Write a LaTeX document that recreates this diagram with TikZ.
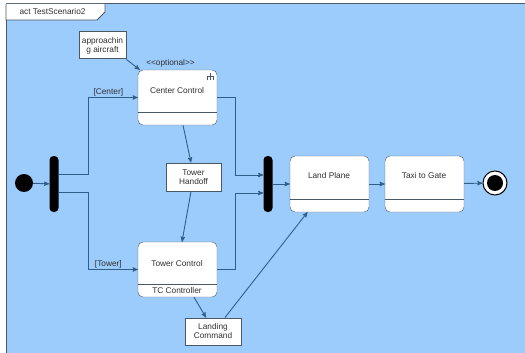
\documentclass[tikz,border=0pt]{standalone}
\usepackage{fontspec}
\setmainfont{Liberation Sans}
\usetikzlibrary{arrows}

\definecolor{paneblue}{HTML}{9CCCFC}
\definecolor{flowline}{HTML}{2F5E88}
\definecolor{boxline}{HTML}{4A5868}
\definecolor{inktext}{HTML}{303030}

\begin{document}
\begin{tikzpicture}[
    x = 1pt,
    y = -1pt,
    >=stealth',
    font = \fontsize{8.3}{9}\selectfont,
    text = inktext,
    action/.style = {
      draw = boxline,
      fill = white,
      rounded corners = 5pt,
      minimum width = 79pt,
      minimum height = 55pt,
      inner sep = 0pt
    },
    objbox/.style = {
      draw = boxline,
      fill = white,
      line width = 1pt,
      align = center,
      inner sep = 0pt
    },
    bar/.style = {
      fill = black,
      rounded corners = 4pt,
      minimum width = 9pt,
      minimum height = 56pt,
      inner sep = 0pt
    },
    flow/.style = {
      draw = flowline,
      line width = 0.9pt,
      ->
    },
    guard/.style = {
      anchor = south,
      inner sep = 1pt
    }
  ]
  \useasboundingbox (0,0) rectangle (525,353);

  % frame and its tab
  \fill[paneblue] (6,4) rectangle (525,353);
  \draw[boxline, line width=1pt] (6,353) -- (6,4) -- (525,4);
  \draw[boxline, fill=white, line width=0.8pt]
    (6,4) -- (6,20) -- (97,20) -- (105,12) -- (105,4);
  \node[anchor=west] (title) at (16,12) {act TestScenario2};

  % start, fork and join
  \node[circle, fill=black, minimum size=18pt, inner sep=0pt] (init) at (24,183) {};
  \node[bar] (fork) at (54,184) {};
  \node[bar] (join) at (268,184) {};

  % actions
  \node[action] (center) at (177.5,97.5) {};
  \node (centerlbl) at (177,91) {Center Control};
  \draw[boxline] ([yshift=13pt]center.south west) -- ([yshift=13pt]center.south east);
  \draw[boxline, line width=0.8pt]
    ([shift={(-7,3)}]center.north east) -- ++(0,4)
    ([shift={(-10,10)}]center.north east) -- ++(0,-3) -- ++(6,0) -- ++(0,3)
    ([shift={(-7,7)}]center.north east) -- ++(0,3);
  \node (optlbl) at ([xshift=-7pt,yshift=6pt]center.north) {<\kern0pt<optional>\kern0pt>};

  \node[action] (tower) at (177.5,269.5) {};
  \node (towerlbl) at (177,264) {Tower Control};
  \draw[boxline] ([yshift=13pt]tower.south west) -- ([yshift=13pt]tower.south east);
  \node (tclbl) at (177,291) {TC Controller};

  \node[action, minimum height=56pt] (land) at (329.5,184) {};
  \node (landlbl) at (329,176) {Land Plane};
  \draw[boxline] ([yshift=13pt]land.south west) -- ([yshift=13pt]land.south east);

  \node[action, minimum height=56pt] (taxi) at (424.5,184) {};
  \node (taxilbl) at (424,176) {Taxi to Gate};
  \draw[boxline] ([yshift=13pt]taxi.south west) -- ([yshift=13pt]taxi.south east);

  \node[circle, draw=black, fill=white, line width=1pt, minimum size=24pt, inner sep=0pt] (final) at (495,183) {};
  \node[circle, fill=black, minimum size=16pt, inner sep=0pt] (finaldot) at (final) {};

  % object nodes
  \node[objbox, minimum width=47pt, minimum height=27pt] (approach) at (102.5,45.5) {approachin\\g aircraft};
  \node[objbox, minimum width=55pt, minimum height=28pt] (handoff) at (193.5,177) {Tower\\Handoff};
  \node[objbox, minimum width=56pt, minimum height=27pt] (landing) at (213,331.5) {Landing\\Command};

  % control flow
  \draw[flow] (init) -- (fork);
  \draw[flow] ([yshift=10pt]fork.east) -- ++(30,0) |- node[guard, pos=0.7] {[Center]} (center.west);
  \draw[flow] ([yshift=-8pt]fork.east) -- ++(30,0) |- node[guard, pos=0.7] {[Tower]} (tower.west);
  \draw[flow] (center.east) -- ++(18,0) |- ([yshift=9pt]join.west);
  \draw[flow] (tower.east) -- ++(18,0) |- ([yshift=-9pt]join.west);
  \draw[flow] (join) -- (land);
  \draw[flow] (land) -- (taxi);
  \draw[flow] (taxi) -- (final);

  % object flow
  \draw[flow] (approach.south east) -- ([xshift=2pt]center.north west);
  \draw[flow] ([xshift=5.5pt]center.south) -- ([xshift=-2.5pt]handoff.north);
  \draw[flow] ([xshift=-2.5pt]handoff.south) -- ([xshift=4.5pt]tower.north);
  \draw[flow] ([xshift=16.5pt]tower.south) -- ([xshift=-7pt]landing.north);
  \draw[flow] ([xshift=12pt]landing.north) -- ([xshift=-22pt]land.south);
\end{tikzpicture}
\end{document}
